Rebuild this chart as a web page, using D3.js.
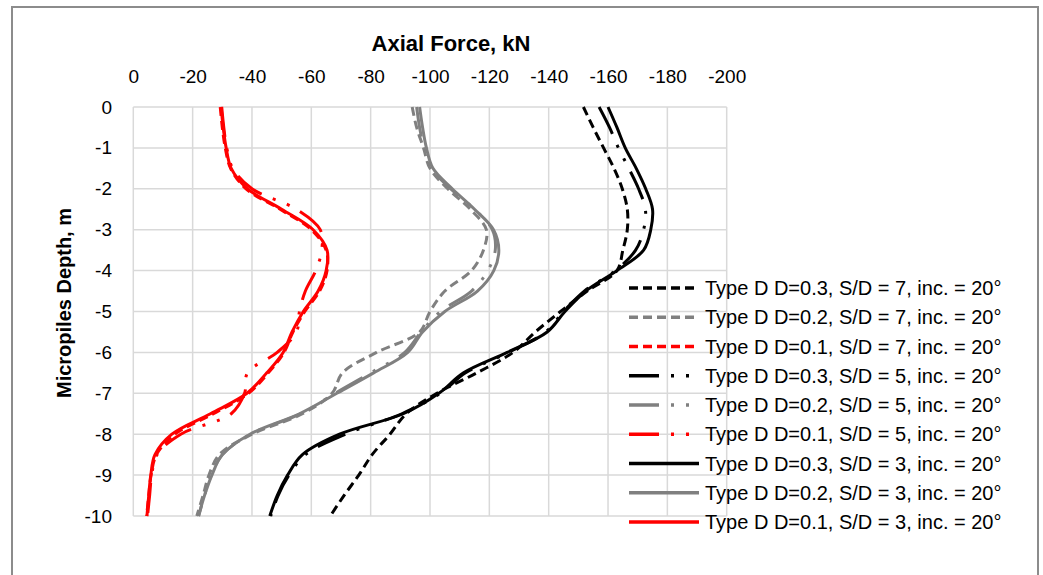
<!DOCTYPE html>
<html>
<head>
<meta charset="utf-8">
<script src="https://d3js.org/d3.v7.min.js"></script>
<style>
  body { margin: 0; background: #fff; }
  text { font-family: "Liberation Sans", Arial, sans-serif; fill: #000; }
</style>
</head>
<body>
<svg id="chart" width="1043" height="575"></svg>
<script>
// depth of every reading, m
var depths = [0, -0.5, -1, -1.5, -2, -2.5, -3, -3.5, -4, -4.5, -5, -5.5, -6, -6.5, -7, -7.5, -8, -8.5, -9, -9.5, -10];

// axial force, kN (one value per depth)
var d03s7 = [-151.7, -155, -158.5, -162, -164.8, -166.5, -166.5, -165, -163, -153, -144, -135.5, -128, -115.8, -102.3, -92, -86.5, -80.5, -76, -71, -66.4];
var d02s7 = [-94, -95.5, -97.8, -100, -106, -113.6, -119, -118, -114, -105, -100, -96.5, -82, -70.5, -67, -57, -40, -29, -25.5, -23.5, -21.4];
var d01s7 = [-29.3, -30, -31, -32.8, -38, -49.5, -60, -65, -65.3, -62.8, -57.8, -53.8, -50.8, -45.5, -38.8, -27, -14, -7.8, -6, -5.2, -4.5];
var d03s5 = [-157, -160.5, -163.5, -167, -170.3, -172.6, -172, -169.3, -162.5, -152, -145, -139, -126.5, -112, -103.5, -90.5, -71.5, -58, -52.5, -48.8, -46.3];
var d02s5 = [-95.5, -96.5, -98, -100.5, -107, -115, -121, -122, -119.5, -114, -103.5, -97, -91.5, -80, -68, -56.5, -39.5, -30, -26.3, -24, -22];
var d01s5 = [-29.8, -30.5, -31.5, -33.5, -40, -55, -63, -63.5, -61.5, -58, -56, -55, -48.5, -38.5, -37.5, -33, -16, -8, -6.2, -5.5, -4.8];
var d03s3 = [-160, -163, -165.8, -169.5, -172.7, -175, -174.4, -172, -163, -152.5, -145.5, -139.5, -126, -111.3, -103, -91, -69.5, -57, -52, -48.5, -46];
var d02s3 = [-96.5, -97.5, -98.8, -101, -107.5, -115, -121.4, -123.2, -121.5, -116, -105, -97.5, -92.5, -81, -68.6, -56, -39.3, -30, -26.5, -24, -22];
var d01s3 = [-29.6, -30.3, -31.3, -33, -38.5, -50, -60.6, -65.3, -65, -62.3, -57.3, -53.5, -50.5, -45, -38.3, -26, -13, -7.3, -5.9, -5.2, -4.6];

var seriesNames = [
  "Type D D=0.3, S/D = 7, inc. = 20°",
  "Type D D=0.2, S/D = 7, inc. = 20°",
  "Type D D=0.1, S/D = 7, inc. = 20°",
  "Type D D=0.3, S/D = 5, inc. = 20°",
  "Type D D=0.2, S/D = 5, inc. = 20°",
  "Type D D=0.1, S/D = 5, inc. = 20°",
  "Type D D=0.3, S/D = 3, inc. = 20°",
  "Type D D=0.2, S/D = 3, inc. = 20°",
  "Type D D=0.1, S/D = 3, inc. = 20°"
];
var seriesValues = [d03s7, d02s7, d01s7, d03s5, d02s5, d01s5, d03s3, d02s3, d01s3];

var xTicks = [0, -20, -40, -60, -80, -100, -120, -140, -160, -180, -200];
var yTicks = [0, -1, -2, -3, -4, -5, -6, -7, -8, -9, -10];

// look of each series: colour by D, dash by S/D
var colours = ["#000000", "#808080", "#ff0000", "#000000", "#808080", "#ff0000", "#000000", "#808080", "#ff0000"];
var dashes = ["9,5", "9,5", "9,5", "30,12,3,12,3,12", "30,12,3,12,3,12", "30,12,3,12,3,12", null, null, null];

var svg = d3.select("#chart");

// outer frame
svg.append("rect")
  .attr("x", 12).attr("y", 7)
  .attr("width", 1026).attr("height", 600)
  .attr("fill", "none")
  .attr("stroke", "#8c8c8c")
  .attr("stroke-width", 2);

var x = d3.scaleLinear().domain([0, -200]).range([133.3, 726.7]);
var y = d3.scaleLinear().domain([0, -10]).range([107, 516]);

// grid
svg.append("g").selectAll("line").data(xTicks).enter().append("line")
  .attr("x1", function(d) { return x(d); }).attr("x2", function(d) { return x(d); })
  .attr("y1", y(0)).attr("y2", y(-10))
  .attr("stroke", "#d9d9d9").attr("stroke-width", 1.5);
svg.append("g").selectAll("line").data(yTicks).enter().append("line")
  .attr("y1", function(d) { return y(d); }).attr("y2", function(d) { return y(d); })
  .attr("x1", x(0)).attr("x2", x(-200))
  .attr("stroke", "#d9d9d9").attr("stroke-width", 1.5);

// axes (labels only)
var xAxis = svg.append("g")
  .attr("transform", "translate(0,83)")
  .call(d3.axisTop(x).tickValues(xTicks).tickSize(0).tickPadding(0).tickFormat(function(d) { return String(d); }));
xAxis.select(".domain").remove();
xAxis.selectAll("text").style("font-size", "19px").style("font-family", "Liberation Sans, Arial, sans-serif").attr("fill", "#000");

var yAxis = svg.append("g")
  .attr("transform", "translate(112,0)")
  .call(d3.axisLeft(y).tickValues(yTicks).tickSize(0).tickPadding(0).tickFormat(function(d) { return String(d); }));
yAxis.select(".domain").remove();
yAxis.selectAll("text").style("font-size", "19px").style("font-family", "Liberation Sans, Arial, sans-serif").attr("fill", "#000");

// titles
svg.append("text")
  .attr("x", 451).attr("y", 51)
  .attr("text-anchor", "middle")
  .style("font-size", "22px").style("font-weight", "bold")
  .text("Axial Force, kN");

svg.append("text")
  .attr("transform", "translate(71,303) rotate(-90)")
  .attr("text-anchor", "middle")
  .style("font-size", "20px").style("font-weight", "bold")
  .text("Micropiles Depth, m");

// curves
var line = d3.line()
  .x(function(d) { return x(d[0]); })
  .y(function(d) { return y(d[1]); })
  .curve(d3.curveCatmullRom.alpha(0.5));

seriesValues.forEach(function(vals, i) {
  var pts = vals.map(function(v, j) { return [v, depths[j]]; });
  svg.append("path")
    .attr("d", line(pts))
    .attr("fill", "none")
    .attr("stroke", colours[i])
    .attr("stroke-width", 3)
    .attr("stroke-dasharray", dashes[i]);
});

// legend
var leg = svg.append("g").selectAll("g").data(seriesNames).enter().append("g")
  .attr("transform", function(d, i) { return "translate(629," + (288 + i * 29.25) + ")"; });
leg.append("line")
  .attr("x1", 0).attr("x2", 70)
  .attr("stroke", function(d, i) { return colours[i]; })
  .attr("stroke-width", 3.5)
  .attr("stroke-dasharray", function(d, i) { return dashes[i]; });
leg.append("text")
  .attr("x", 76).attr("y", 7)
  .style("font-size", "20px")
  .text(function(d) { return d; });
</script>
</body>
</html>
